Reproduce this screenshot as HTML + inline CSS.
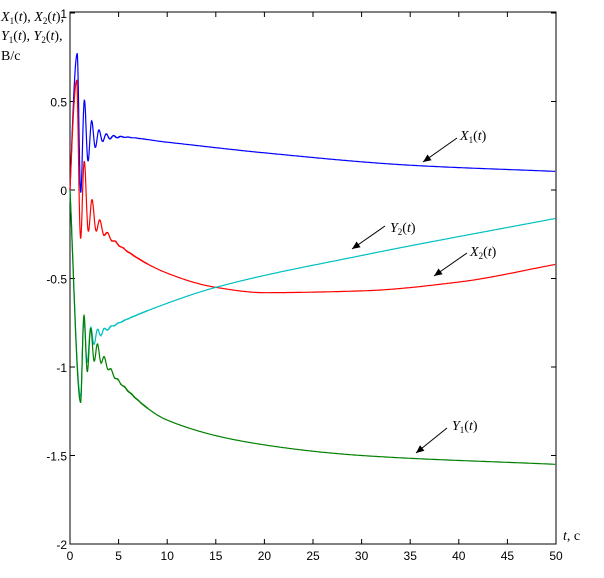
<!DOCTYPE html>
<html><head><meta charset="utf-8"><style>
body{margin:0;background:#fff;}
svg{display:block;font-family:"Liberation Sans",sans-serif;}
.tl{font-family:"Liberation Serif",serif;font-size:14px;}
</style></head><body>
<svg id="s" width="604" height="578" xmlns="http://www.w3.org/2000/svg">
<rect width="604" height="578" fill="#fff"/>
<rect x="70" y="12" width="486" height="532" fill="#fff" stroke="#000" stroke-width="1"/>
<g id="ticks" stroke="#000" stroke-width="1"></g>
<g id="lbl" font-size="12" fill="#000"></g>
<g id="curves" fill="none" stroke-width="1.2"></g>
<g class="tl" fill="#000">
<text x="1" y="21"><tspan font-style="italic">X</tspan><tspan font-size="9" dy="3">1</tspan><tspan dy="-3">(</tspan><tspan font-style="italic">t</tspan>), <tspan font-style="italic">X</tspan><tspan font-size="9" dy="3">2</tspan><tspan dy="-3">(</tspan><tspan font-style="italic">t</tspan>),</text>
<text x="1" y="40"><tspan font-style="italic">Y</tspan><tspan font-size="9" dy="3">1</tspan><tspan dy="-3">(</tspan><tspan font-style="italic">t</tspan>), <tspan font-style="italic">Y</tspan><tspan font-size="9" dy="3">2</tspan><tspan dy="-3">(</tspan><tspan font-style="italic">t</tspan>),</text>
<text x="1" y="60">B/c</text>
<text x="563" y="540"><tspan font-style="italic">t</tspan>, c</text>
<text x="460" y="140"><tspan font-style="italic">X</tspan><tspan font-size="9" dy="3">1</tspan><tspan dy="-3">(</tspan><tspan font-style="italic">t</tspan>)</text>
<text x="390" y="232"><tspan font-style="italic">Y</tspan><tspan font-size="9" dy="3">2</tspan><tspan dy="-3">(</tspan><tspan font-style="italic">t</tspan>)</text>
<text x="470" y="256"><tspan font-style="italic">X</tspan><tspan font-size="9" dy="3">2</tspan><tspan dy="-3">(</tspan><tspan font-style="italic">t</tspan>)</text>
<text x="452" y="430"><tspan font-style="italic">Y</tspan><tspan font-size="9" dy="3">1</tspan><tspan dy="-3">(</tspan><tspan font-style="italic">t</tspan>)</text>
</g>
<g id="arrows" stroke="#000" fill="#000"></g>
</svg>
<script>
var NS="http://www.w3.org/2000/svg";
function el(p,n,a,t){var e=document.createElementNS(NS,n);for(var k in a)e.setAttribute(k,a[k]);if(t!==undefined)e.textContent=t;document.getElementById(p).appendChild(e);return e;}
function X(t){return 70+t*9.72;}
function Y(v){return 190-v*177;}
for(var i=0;i<=10;i++){var x=X(i*5);el("ticks","line",{x1:x,y1:544,x2:x,y2:539});el("ticks","line",{x1:x,y1:12,x2:x,y2:17});
el("lbl","text",{x:x,y:560,"text-anchor":"middle"},String(i*5));}
for(var j=0;j<=6;j++){var v=1-j*0.5,y=Y(v);el("ticks","line",{x1:70,y1:y,x2:75,y2:y});el("ticks","line",{x1:556,y1:y,x2:551,y2:y});
el("lbl","text",{x:67,y:y+5,"text-anchor":"end"},String(v));}
function pchip(k){var n=k.length,h=[],d=[],m=[];for(var i=0;i<n-1;i++){h[i]=k[i+1][0]-k[i][0];d[i]=(k[i+1][1]-k[i][1])/h[i];}
m[0]=d[0];m[n-1]=d[n-2];for(i=1;i<n-1;i++){if(d[i-1]*d[i]<=0)m[i]=0;else{var w1=2*h[i]+h[i-1],w2=h[i]+2*h[i-1];m[i]=(w1+w2)/(w1/d[i-1]+w2/d[i]);}}
return function(t){for(var i=0;i<n-1;i++){if(t<=k[i+1][0]){var u=(t-k[i][0])/h[i],u2=u*u,u3=u2*u;
return (2*u3-3*u2+1)*k[i][1]+(u3-2*u2+u)*h[i]*m[i]+(-2*u3+3*u2)*k[i+1][1]+(u3-u2)*h[i]*m[i+1];}}return k[n-1][1];};}
function curve(col,keys,tp,A,P,tau){var f=pchip(keys);var pts=[];for(var t=0;t<=50;t+=(t<8?0.005:0.1)){var v=f(t);
var ph,am;if(t<tp){ph=Math.PI/2*t/tp;am=A;}else{ph=Math.PI/2+2*Math.PI*(t-tp)/P;am=A*Math.exp(-(t-tp)/tau);}
v+=am*Math.sin(ph);pts.push(X(t).toFixed(1)+","+Y(v).toFixed(1));}
el("curves","polyline",{points:pts.join(" "),stroke:col});}
curve("#0000ff",[[0,0],[0.75,0.3],[5,0.3],[10,0.27],[20,0.21],[35,0.14],[50,0.105]],0.75,0.47,0.75,0.9);
curve("#ff0000",[[0,0],[0.7,0.12],[1.5,-0.05],[3,-0.2],[5,-0.31],[10,-0.47],[15,-0.55],[20,-0.58],[30,-0.57],[40,-0.52],[50,-0.42]],0.7,0.5,0.8,0.9);
curve("#00c0c0",[[0,0],[1.1,-0.92],[2,-0.85],[4,-0.78],[10,-0.64],[15,-0.55],[30,-0.37],[50,-0.16]],1.1,-0.25,0.7,0.8);
curve("#008000",[[0,0],[1.1,-0.92],[2,-0.88],[3,-0.93],[5,-1.08],[10,-1.3],[20,-1.44],[30,-1.5],[50,-1.55]],1.1,-0.28,0.7,1.0);
function arrow(x1,y1,x2,y2){el("arrows","line",{x1:x1,y1:y1,x2:x2,y2:y2});var a=Math.atan2(y2-y1,x2-x1),L=8,w=3.5;
var bx=x2-L*Math.cos(a),by=y2-L*Math.sin(a);el("arrows","polygon",{points:x2+","+y2+" "+(bx-w*Math.sin(a))+","+(by+w*Math.cos(a))+" "+(bx+w*Math.sin(a))+","+(by-w*Math.cos(a)),stroke:"none"});}
arrow(457,138,423,162);arrow(385,226,352,249);arrow(467,253,434,276);arrow(447,428,416,453);
</script>
</body></html>
